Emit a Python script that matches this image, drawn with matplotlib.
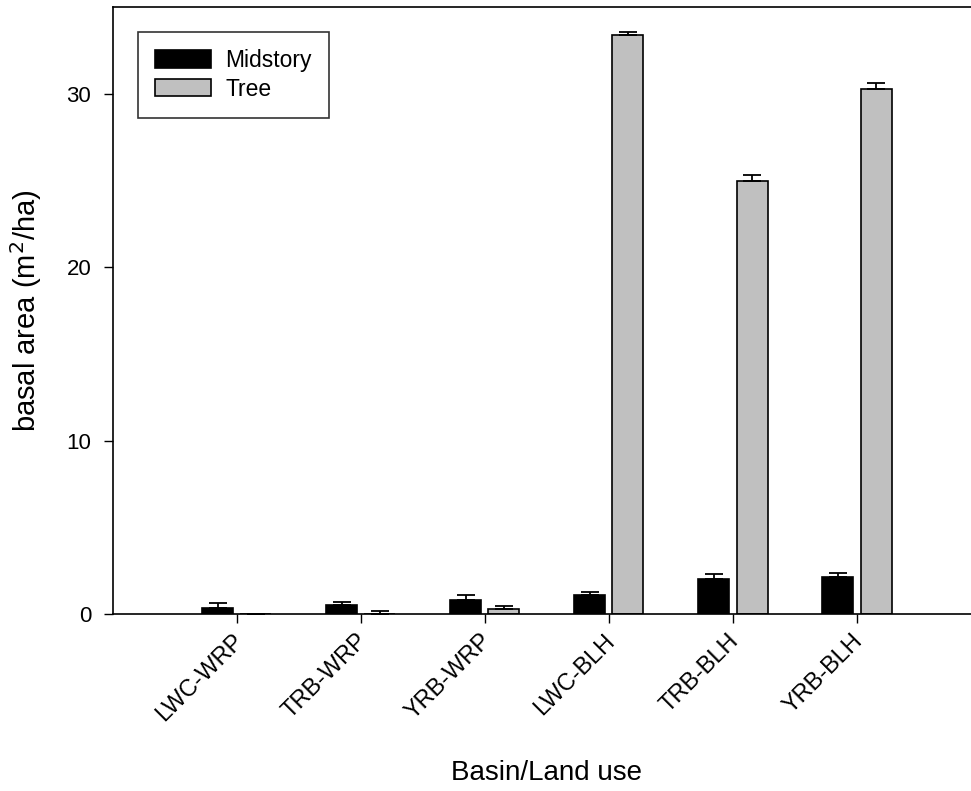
import numpy as np
import matplotlib
matplotlib.use('Agg')
import matplotlib.pyplot as plt
import matplotlib.transforms as mtransforms

plt.rcParams['font.family'] = ['Liberation Sans', 'DejaVu Sans']

# basal area per basin / land use
sites = ['LWC-WRP', 'TRB-WRP', 'YRB-WRP', 'LWC-BLH', 'TRB-BLH', 'YRB-BLH']
midstory = [0.36, 0.52, 0.79, 1.10, 2.02, 2.13]
midstory_se = [0.26, 0.19, 0.29, 0.19, 0.30, 0.25]
tree = [0.0, 0.02, 0.31, 33.40, 24.94, 30.28]
tree_se = [0.0, 0.17, 0.17, 0.18, 0.38, 0.36]

fig = plt.figure(figsize=(9.71, 7.91), dpi=100)
ax = fig.add_axes([0.1161, 0.2238, 0.894, 0.7674])

x = np.arange(1, len(sites) + 1)
w = 0.25
gap = 0.03

err_kw = dict(elinewidth=1.3, capthick=1.3, ecolor='black')
ax.bar(x - gap - w / 2, midstory, w, color='black', edgecolor='black',
       linewidth=1.2, label='Midstory',
       yerr=[np.zeros(len(sites)), midstory_se], capsize=6.8, error_kw=err_kw)
ax.bar(x + gap + w / 2, tree, w, color='#c0c0c0', edgecolor='black',
       linewidth=1.2, label='Tree',
       yerr=[np.zeros(len(sites)), tree_se], capsize=6.8, error_kw=err_kw)

ax.set_xlim(0, 7)
ax.set_ylim(0, 35)
ax.set_yticks([0, 10, 20, 30])
ax.set_xticks(x)
ax.set_xticklabels(sites, rotation=45, ha='right', rotation_mode='anchor')
ax.tick_params(axis='both', direction='out', length=6.5, width=1.0)
ax.tick_params(axis='y', labelsize=16, pad=9)
ax.tick_params(axis='x', labelsize=17, pad=5)

# nudge the slanted labels so they end under their tick
shift = mtransforms.ScaledTranslation(-5 / 100, 0, fig.dpi_scale_trans)
for lab in ax.get_xticklabels():
    lab.set_transform(lab.get_transform() + shift)

for sp in ax.spines.values():
    sp.set_linewidth(1.2)

ax.set_xlabel('Basin/Land use', fontsize=20)
ax.xaxis.set_label_coords(0.5, -0.2405)
ax.set_ylabel('basal area (m$^2$/ha)', fontsize=21)
ax.yaxis.set_label_coords(-0.079, 0.5)

leg = ax.legend(loc='upper left', bbox_to_anchor=(0.0291, 0.9593), fontsize=16.5,
                frameon=True, fancybox=False, edgecolor='black',
                borderaxespad=0, handlelength=2.44, handleheight=0.79,
                borderpad=0.75, labelspacing=0.25, handletextpad=0.61)
leg.get_frame().set_linewidth(1.2)

fig.savefig('out.png', dpi=100)
